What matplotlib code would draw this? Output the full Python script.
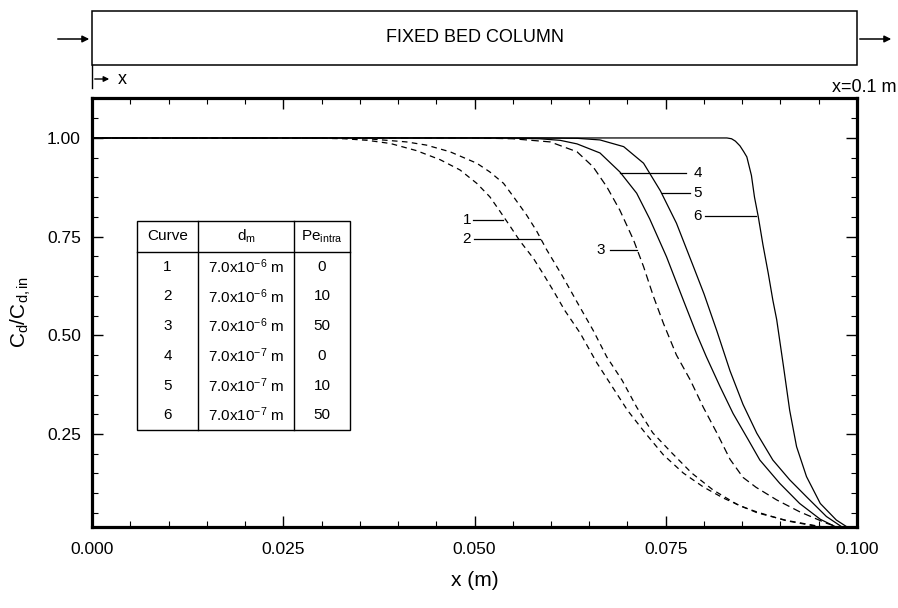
import matplotlib
matplotlib.use("Agg")
import matplotlib.pyplot as plt
from matplotlib.ticker import MultipleLocator, FormatStrFormatter
from matplotlib.patches import Rectangle

plt.rcParams['font.family'] = ['Liberation Sans', 'DejaVu Sans']
plt.rcParams['mathtext.fontset'] = 'custom'
plt.rcParams['mathtext.rm'] = 'Liberation Sans'
plt.rcParams['mathtext.it'] = 'Liberation Sans:italic'
plt.rcParams['mathtext.bf'] = 'Liberation Sans:bold'

# ---- breakthrough profiles C_d/C_d,in along the bed ----
x1 = [0, 0.028, 0.033, 0.036, 0.039, 0.0424, 0.0455, 0.0481, 0.0503, 0.0520, 0.0533,
      0.0546, 0.0559, 0.0577, 0.0590, 0.0604, 0.0618, 0.0638, 0.0660, 0.0680, 0.0700,
      0.0723, 0.0747, 0.0773, 0.0799, 0.0825, 0.0851, 0.0870, 0.0908, 0.0948, 0.0975, 0.1]
y1 = [1.0, 1.0, 0.998, 0.994, 0.986, 0.968, 0.945, 0.919, 0.885, 0.851, 0.815,
      0.778, 0.740, 0.695, 0.655, 0.610, 0.563, 0.506, 0.430, 0.370, 0.310,
      0.253, 0.197, 0.151, 0.116, 0.088, 0.065, 0.052, 0.030, 0.016, 0.008, 0.0]

x2 = [0, 0.030, 0.036, 0.0411, 0.0437, 0.0468, 0.0503, 0.0520, 0.0538, 0.0551, 0.0568,
      0.0581, 0.0594, 0.0615, 0.0635, 0.0655, 0.0673, 0.0693, 0.0712, 0.0733, 0.0758,
      0.0784, 0.0812, 0.0843, 0.0870, 0.0908, 0.0948, 0.0975, 0.1]
y2 = [1.0, 1.0, 0.998, 0.990, 0.982, 0.965, 0.936, 0.914, 0.885, 0.851, 0.805,
      0.765, 0.718, 0.650, 0.581, 0.513, 0.445, 0.386, 0.318, 0.253, 0.202,
      0.151, 0.108, 0.072, 0.050, 0.031, 0.017, 0.009, 0.0]

x3 = [0, 0.050, 0.055, 0.0599, 0.0634, 0.0655, 0.0673, 0.0690, 0.0708, 0.0721, 0.0734,
      0.0747, 0.0764, 0.0782, 0.0799, 0.0817, 0.0834, 0.0851, 0.0868, 0.0895, 0.0925,
      0.0960, 0.0985, 0.1]
y3 = [1.0, 1.0, 0.998, 0.990, 0.965, 0.927, 0.876, 0.817, 0.741, 0.674, 0.598,
      0.530, 0.450, 0.387, 0.318, 0.252, 0.186, 0.140, 0.115, 0.083, 0.053,
      0.024, 0.008, 0.0]

x4 = [0, 0.054, 0.0585, 0.0612, 0.0634, 0.0664, 0.0690, 0.0712, 0.0729, 0.0751, 0.0773,
      0.0790, 0.0803, 0.0821, 0.0838, 0.0858, 0.0873, 0.0899, 0.0925, 0.0952, 0.0975, 0.1]
y4 = [1.0, 1.0, 0.998, 0.994, 0.985, 0.962, 0.914, 0.860, 0.795, 0.699, 0.589,
      0.505, 0.446, 0.370, 0.302, 0.235, 0.184, 0.125, 0.074, 0.034, 0.012, 0.0]

x5 = [0, 0.058, 0.0635, 0.0664, 0.0695, 0.0721, 0.0743, 0.0764, 0.0786, 0.0800, 0.0817,
      0.0834, 0.0851, 0.0869, 0.0890, 0.0912, 0.0934, 0.0960, 0.0980, 0.1]
y5 = [1.0, 1.0, 0.999, 0.995, 0.978, 0.936, 0.866, 0.784, 0.675, 0.605, 0.510,
      0.410, 0.325, 0.252, 0.184, 0.134, 0.091, 0.041, 0.015, 0.0]

x6 = [0, 0.079, 0.0830, 0.0836, 0.0841, 0.0847, 0.0852, 0.0856, 0.0862, 0.0866, 0.0871,
      0.0877, 0.0884, 0.0890, 0.0895, 0.0904, 0.0912, 0.0921, 0.0934, 0.0952, 0.0973,
      0.0993, 0.1]
y6 = [1.0, 1.0, 1.0, 0.998, 0.992, 0.980, 0.965, 0.952, 0.905, 0.850, 0.800,
      0.730, 0.657, 0.589, 0.540, 0.420, 0.310, 0.218, 0.142, 0.074, 0.032,
      0.007, 0.0]

# curve label anchors: (label, text x, line start x, line end x, y)
tags = [('1', 0.0490, 0.0498, 0.0537, 0.792),
        ('2', 0.0490, 0.0499, 0.0585, 0.743),
        ('3', 0.0665, 0.0677, 0.0712, 0.717),
        ('4', 0.0792, 0.0690, 0.0776, 0.912),
        ('5', 0.0792, 0.0745, 0.0782, 0.860),
        ('6', 0.0792, 0.0801, 0.0868, 0.803)]

# parameter table
curve_ids = ['1', '2', '3', '4', '5', '6']
d_m = ['7.0x10$^{-6}$ m'] * 3 + ['7.0x10$^{-7}$ m'] * 3
pe_intra = ['0', '10', '50', '0', '10', '50']

W, H = 898, 608
fig = plt.figure(figsize=(W / 100, H / 100), dpi=100)

L, R, T, B = 92, 857, 97.7, 527
ax = fig.add_axes([L / W, (H - B) / H, (R - L) / W, (B - T) / H])

dash12 = (4.5, 3.5)
dash3 = (6, 3.5)
lw = 0.9
ax.plot(x1, y1, color='k', lw=lw, dashes=dash12)
ax.plot(x2, y2, color='k', lw=lw, dashes=dash12)
ax.plot(x3, y3, color='k', lw=lw, dashes=dash3)
ax.plot(x4, y4, color='k', lw=lw)
ax.plot(x5, y5, color='k', lw=lw)
ax.plot(x6, y6, color='k', lw=lw)

for lab, tx, xa, xb, yy in tags:
    ax.plot([xa, xb], [yy, yy], color='k', lw=0.9)
    ax.text(tx, yy, lab, fontsize=11, ha='center', va='center')

ax.set_xlim(0, 0.1)
ax.set_ylim(0.0144, 1.102)
ax.xaxis.set_major_locator(MultipleLocator(0.025))
ax.xaxis.set_minor_locator(MultipleLocator(0.005))
ax.yaxis.set_major_locator(MultipleLocator(0.25))
ax.yaxis.set_minor_locator(MultipleLocator(0.05))
ax.xaxis.set_major_formatter(FormatStrFormatter('%.3f'))
ax.yaxis.set_major_formatter(FormatStrFormatter('%.2f'))
ax.tick_params(which='both', direction='in', top=True, right=True, labelsize=12.5)
ax.tick_params(which='major', length=8, width=1.0)
ax.tick_params(which='minor', length=4, width=0.8)
ax.tick_params(axis='x', pad=11)
ax.tick_params(axis='y', pad=8)
for s in ax.spines.values():
    s.set_linewidth(2.3)

ax.set_xlabel('x (m)', fontsize=15, labelpad=10)
ax.set_ylabel(r'$\mathrm{C_d/C_{d,in}}$', fontsize=15, labelpad=10)

# overlay in pixel coordinates for the column sketch and the table
ov = fig.add_axes([0, 0, 1, 1])
ov.set_xlim(0, W)
ov.set_ylim(H, 0)
ov.axis('off')
ov.patch.set_alpha(0)

ov.add_patch(Rectangle((L, 11), R - L, 54, fill=False, ec='k', lw=1.1))
ov.text((L + R) / 2, 38, 'FIXED BED COLUMN', fontsize=13, ha='center', va='center')
ov.annotate('', xy=(L, 39), xytext=(55, 39),
            arrowprops=dict(arrowstyle='-|>', color='k', lw=1.1, mutation_scale=10))
ov.annotate('', xy=(894, 39), xytext=(R, 39),
            arrowprops=dict(arrowstyle='-|>', color='k', lw=1.1, mutation_scale=10))
ov.plot([L, L], [65, 88], color='k', lw=1.0)
ov.annotate('', xy=(112, 79), xytext=(L, 79),
            arrowprops=dict(arrowstyle='-|>', color='k', lw=1.0, mutation_scale=8))
ov.text(118, 79, 'x', fontsize=13, ha='left', va='center')
ov.text(896, 87, 'x=0.1 m', fontsize=13, ha='right', va='center')

# table
tl, tr, tt, th, tb = 137, 350, 221, 252, 430
c1, c2 = 198, 294
ov.add_patch(Rectangle((tl, tt), tr - tl, tb - tt, fc='white', ec='k', lw=1.0))
ov.plot([tl, tr], [th, th], color='k', lw=1.0)
ov.plot([c1, c1], [tt, tb], color='k', lw=1.0)
ov.plot([c2, c2], [tt, tb], color='k', lw=1.0)
hy = (tt + th) / 2
ov.text((tl + c1) / 2, hy, 'Curve', fontsize=11, ha='center', va='center')
ov.text((c1 + c2) / 2, hy, r'd$_\mathrm{m}$', fontsize=11, ha='center', va='center')
ov.text((c2 + tr) / 2, hy, r'Pe$_\mathrm{intra}$', fontsize=11, ha='center', va='center')
rh = (tb - th) / len(curve_ids)
for i, (cid, dm, pe) in enumerate(zip(curve_ids, d_m, pe_intra)):
    yy = th + rh * (i + 0.5)
    ov.text((tl + c1) / 2, yy, cid, fontsize=11, ha='center', va='center')
    ov.text((c1 + c2) / 2, yy, dm, fontsize=11, ha='center', va='center')
    ov.text((c2 + tr) / 2, yy, pe, fontsize=11, ha='center', va='center')

fig.savefig('out.png', dpi=100)
